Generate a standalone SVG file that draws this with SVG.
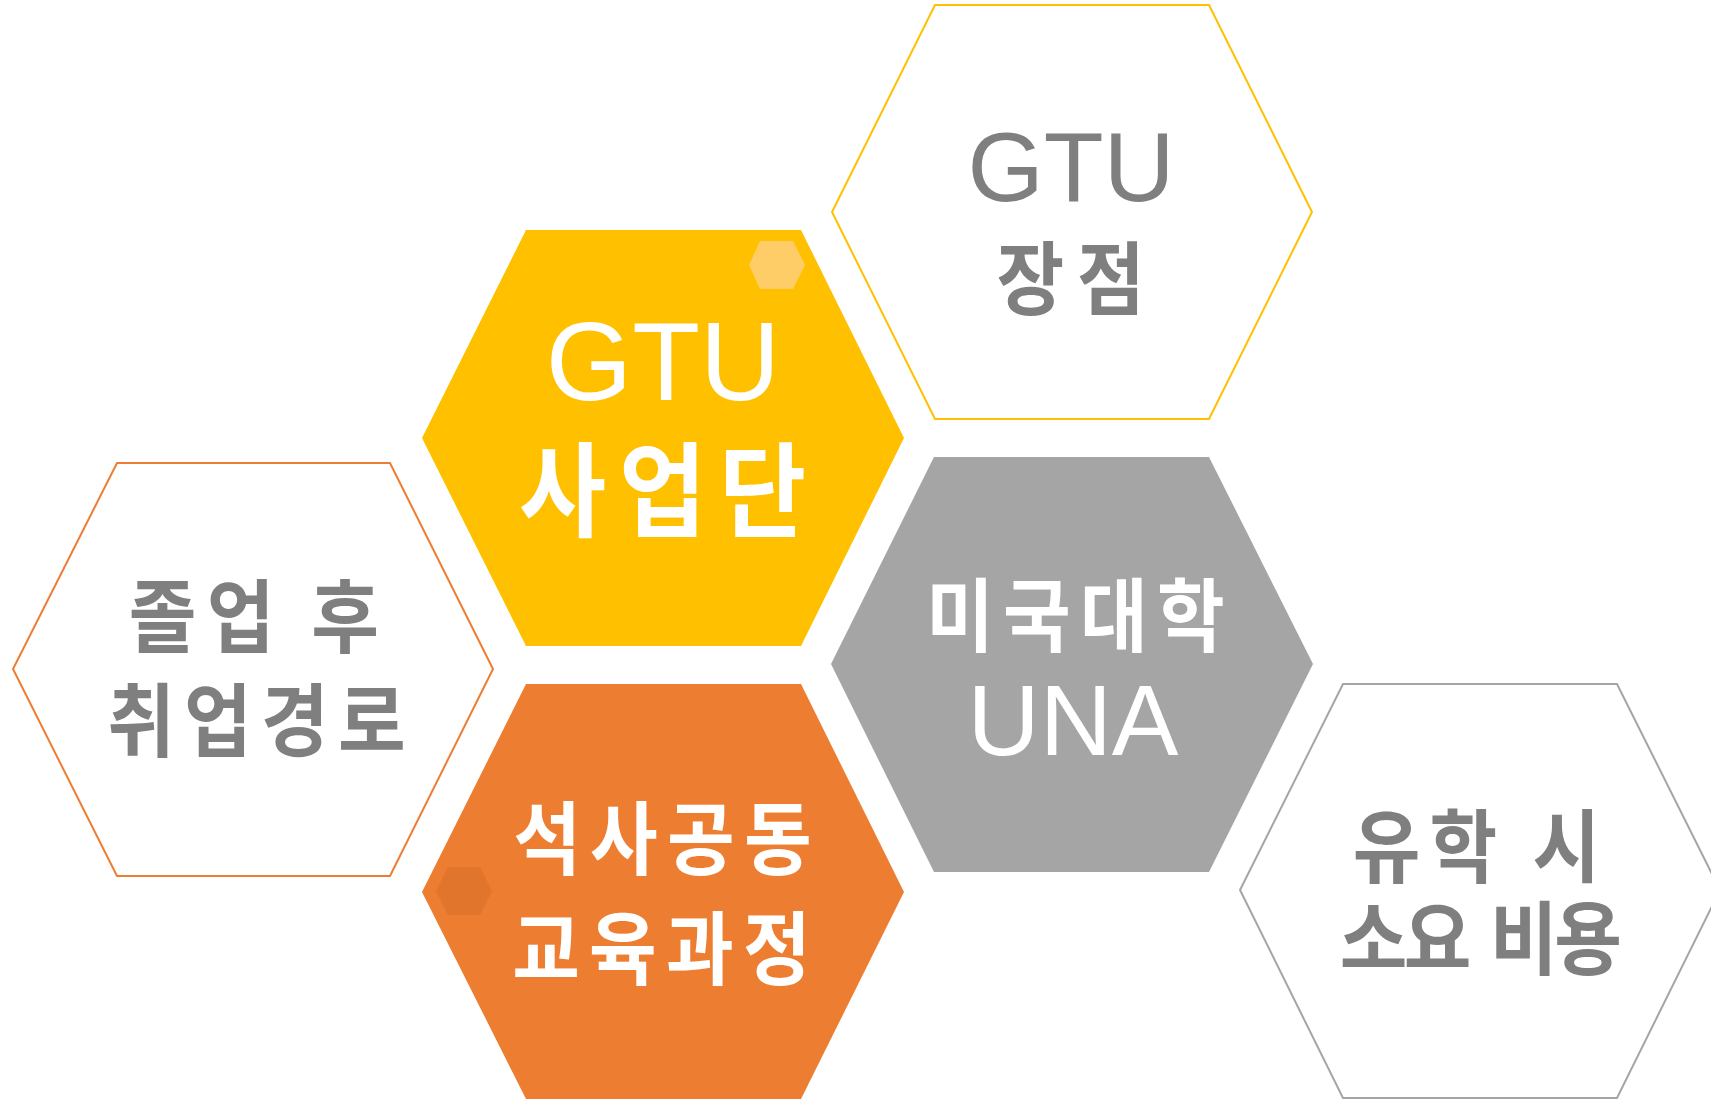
<svg xmlns="http://www.w3.org/2000/svg" width="1711" height="1101" viewBox="0 0 1711 1101">
<style>
.lat{font-family:"Liberation Sans",Arial,"Noto Sans CJK KR",sans-serif;font-weight:400;text-anchor:middle}
.kr{font-family:"Noto Sans CJK KR","Noto Sans",sans-serif;font-weight:700;text-anchor:middle;font-size:80px}
.g{fill:#7F7F7F}
.w{fill:#FFFFFF}
.ol{fill:#FFFFFF;stroke-width:2}
</style>
<rect width="1711" height="1101" fill="#FFFFFF"/>
<g id="connectors"/>
<g id="node-gtu-strengths">
<polygon class="ol" stroke="#FFC000" points="935,5 1209,5 1312,212 1209,419 935,419 832,212"/>
<text class="lat g" x="1071" y="201" font-size="98">GTU</text>
<text class="kr g" transform="translate(1077,307.5) scale(0.92,1)" letter-spacing="14">장점</text>
</g>
<g id="node-gtu-office">
<polygon fill="#FFC000" points="526,230 801,230 904,438 801,646 526,646 422,438"/>
<polygon fill="#FFCD67" points="760,241 793,241 805,265 793,289 760,289 749,265"/>
<text class="lat w" x="663" y="400" font-size="111">GTU</text>
<text class="kr w" transform="translate(669,529) scale(0.92,1)" style="font-size:103px" letter-spacing="14">사업단</text>
</g>
<g id="node-career">
<polygon class="ol" stroke="#ED7D31" points="117,463 390,463 493,669 390,876 117,876 13,669"/>
<text class="kr g" transform="translate(259,646) scale(0.92,1)" letter-spacing="11">졸업 후</text>
<text class="kr g" transform="translate(261,749.5) scale(0.92,1)" letter-spacing="10">취업경로</text>
</g>
<g id="node-una">
<polygon fill="#A5A5A5" points="934,457 1209,457 1313,664 1209,872 934,872 831,664"/>
<text class="kr w" transform="translate(1080,644.5) scale(0.92,1)" letter-spacing="10">미국대학</text>
<text class="lat w" x="1073" y="755" font-size="100">UNA</text>
</g>
<g id="node-masters">
<polygon fill="#ED7D31" points="526,684 801,684 904,892 801,1099 526,1099 422,892"/>
<polygon fill="#E2752C" points="448,867 480,867 492,891 480,915 448,915 436,891"/>
<text class="kr w" transform="translate(667,867.5) scale(0.92,1)" letter-spacing="10">석사공동</text>
<text class="kr w" transform="translate(666,977.5) scale(0.92,1)" letter-spacing="10">교육과정</text>
</g>
<g id="node-cost">
<polygon class="ol" stroke="#A5A5A5" points="1343,684 1617,684 1720,890 1617,1098 1343,1098 1240,890"/>
<text class="kr g" transform="translate(1481,875.5) scale(0.92,1)" letter-spacing="10">유학 시</text>
<text class="kr g" transform="translate(1479,967.5) scale(0.92,1)" letter-spacing="-4">소요 <tspan dx="10">비용</tspan></text>
</g>
</svg>
